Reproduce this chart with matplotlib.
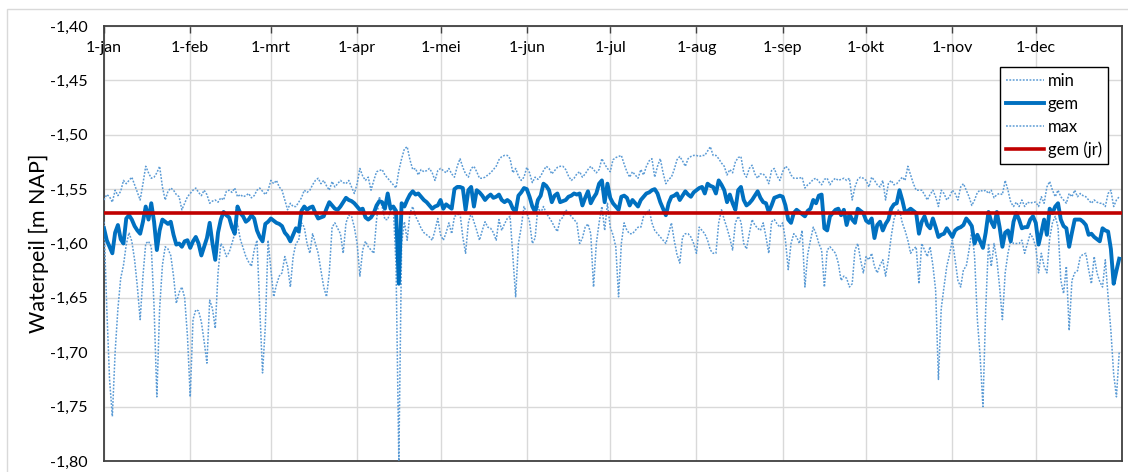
import numpy as np
import matplotlib
matplotlib.use("Agg")
import matplotlib.pyplot as plt
from matplotlib.patches import Rectangle
from matplotlib.ticker import FuncFormatter

plt.rcParams['font.family'] = ['Lato', 'DejaVu Sans']

# month starts (day of year, leap year) and labels
month_start = [0, 31, 60, 91, 121, 152, 182, 213, 244, 274, 305, 335]
month_labels = ['1-jan', '1-feb', '1-mrt', '1-apr', '1-mei', '1-jun',
                '1-jul', '1-aug', '1-sep', '1-okt', '1-nov', '1-dec']

# daily water levels [m NAP]
wl_gem = [
    -1.586, -1.597, -1.603, -1.609, -1.590, -1.583, -1.596, -1.600, -1.577, -1.574,
    -1.578, -1.584, -1.588, -1.591, -1.580, -1.566, -1.578, -1.563, -1.580, -1.606,
    -1.588, -1.578, -1.580, -1.582, -1.580, -1.592, -1.601, -1.600, -1.603, -1.598,
    -1.597, -1.604, -1.598, -1.594, -1.600, -1.611, -1.603, -1.595, -1.581, -1.600,
    -1.615, -1.590, -1.578, -1.571, -1.574, -1.576, -1.585, -1.591, -1.566, -1.572,
    -1.575, -1.580, -1.578, -1.574, -1.577, -1.588, -1.594, -1.598, -1.582, -1.580,
    -1.577, -1.579, -1.581, -1.582, -1.584, -1.590, -1.593, -1.598, -1.592, -1.586,
    -1.589, -1.570, -1.566, -1.569, -1.567, -1.566, -1.572, -1.577, -1.576, -1.575,
    -1.568, -1.562, -1.565, -1.568, -1.569, -1.566, -1.562, -1.558, -1.560, -1.561,
    -1.563, -1.566, -1.569, -1.568, -1.576, -1.578, -1.576, -1.572, -1.565, -1.561,
    -1.562, -1.568, -1.554, -1.568, -1.566, -1.570, -1.637, -1.563, -1.566, -1.560,
    -1.555, -1.552, -1.555, -1.554, -1.557, -1.560, -1.562, -1.565, -1.568, -1.566,
    -1.565, -1.560, -1.568, -1.564, -1.566, -1.568, -1.550, -1.548, -1.548, -1.549,
    -1.569, -1.551, -1.548, -1.566, -1.551, -1.553, -1.556, -1.560, -1.557, -1.555,
    -1.558, -1.557, -1.555, -1.560, -1.562, -1.560, -1.562, -1.568, -1.571, -1.556,
    -1.553, -1.549, -1.550, -1.557, -1.566, -1.571, -1.560, -1.556, -1.545, -1.547,
    -1.551, -1.562, -1.556, -1.554, -1.562, -1.561, -1.560, -1.557, -1.556, -1.554,
    -1.555, -1.554, -1.565, -1.558, -1.552, -1.563, -1.558, -1.554, -1.545, -1.542,
    -1.562, -1.545, -1.558, -1.563, -1.566, -1.569, -1.557, -1.556, -1.558, -1.565,
    -1.560, -1.563, -1.566, -1.560, -1.557, -1.554, -1.553, -1.551, -1.550, -1.554,
    -1.562, -1.568, -1.574, -1.563, -1.557, -1.556, -1.554, -1.560, -1.556, -1.552,
    -1.555, -1.557, -1.553, -1.551, -1.549, -1.548, -1.554, -1.545, -1.547, -1.548,
    -1.554, -1.542, -1.546, -1.551, -1.562, -1.555, -1.563, -1.569, -1.551, -1.548,
    -1.560, -1.565, -1.563, -1.560, -1.556, -1.552, -1.558, -1.562, -1.563, -1.571,
    -1.565, -1.558, -1.557, -1.556, -1.557, -1.565, -1.578, -1.581, -1.572, -1.569,
    -1.571, -1.573, -1.575, -1.570, -1.568, -1.560, -1.563, -1.556, -1.555, -1.586,
    -1.588, -1.575, -1.572, -1.569, -1.568, -1.574, -1.569, -1.583, -1.573, -1.578,
    -1.581, -1.568, -1.570, -1.572, -1.579, -1.581, -1.577, -1.595, -1.583, -1.580,
    -1.588, -1.582, -1.578, -1.568, -1.564, -1.563, -1.551, -1.560, -1.571, -1.570,
    -1.568, -1.570, -1.572, -1.591, -1.580, -1.575, -1.583, -1.586, -1.577, -1.585,
    -1.594, -1.592, -1.591, -1.586, -1.590, -1.594, -1.588, -1.586, -1.585, -1.583,
    -1.577, -1.580, -1.584, -1.600, -1.592, -1.598, -1.604, -1.590, -1.571, -1.580,
    -1.585, -1.571, -1.585, -1.603, -1.590, -1.588, -1.598, -1.580, -1.572, -1.578,
    -1.586, -1.585, -1.585, -1.578, -1.575, -1.581, -1.601, -1.590, -1.578, -1.592,
    -1.568, -1.572, -1.566, -1.563, -1.578, -1.584, -1.586, -1.603, -1.590, -1.578,
    -1.578, -1.578, -1.580, -1.583, -1.592, -1.591, -1.594, -1.596, -1.598, -1.586,
    -1.588, -1.589, -1.605, -1.637, -1.625, -1.614,
]

wl_max = [
    -1.560, -1.555, -1.557, -1.562, -1.551, -1.556, -1.552, -1.542, -1.545, -1.542,
    -1.539, -1.546, -1.553, -1.560, -1.545, -1.529, -1.535, -1.540, -1.539, -1.535,
    -1.529, -1.548, -1.560, -1.552, -1.549, -1.551, -1.555, -1.557, -1.569, -1.563,
    -1.557, -1.554, -1.551, -1.549, -1.553, -1.556, -1.551, -1.555, -1.563, -1.561,
    -1.560, -1.562, -1.558, -1.560, -1.552, -1.551, -1.553, -1.549, -1.557, -1.555,
    -1.557, -1.556, -1.554, -1.558, -1.556, -1.551, -1.549, -1.552, -1.555, -1.551,
    -1.542, -1.545, -1.542, -1.548, -1.551, -1.560, -1.569, -1.563, -1.566, -1.566,
    -1.562, -1.558, -1.551, -1.553, -1.551, -1.546, -1.542, -1.540, -1.545, -1.542,
    -1.547, -1.551, -1.543, -1.548, -1.545, -1.542, -1.544, -1.545, -1.542, -1.548,
    -1.554, -1.545, -1.531, -1.538, -1.542, -1.539, -1.551, -1.542, -1.534, -1.533,
    -1.532, -1.537, -1.540, -1.543, -1.546, -1.549, -1.533, -1.522, -1.513, -1.511,
    -1.523, -1.532, -1.531, -1.537, -1.532, -1.534, -1.533, -1.531, -1.535, -1.542,
    -1.533, -1.531, -1.533, -1.535, -1.531, -1.536, -1.539, -1.529, -1.522, -1.530,
    -1.536, -1.539, -1.531, -1.529, -1.534, -1.540, -1.540, -1.539, -1.537, -1.535,
    -1.532, -1.529, -1.523, -1.520, -1.519, -1.519, -1.522, -1.535, -1.531, -1.538,
    -1.542, -1.539, -1.530, -1.535, -1.544, -1.539, -1.541, -1.538, -1.533, -1.529,
    -1.531, -1.536, -1.533, -1.530, -1.529, -1.529, -1.532, -1.538, -1.542, -1.540,
    -1.536, -1.534, -1.539, -1.536, -1.532, -1.529, -1.532, -1.535, -1.532, -1.522,
    -1.527, -1.531, -1.534, -1.523, -1.521, -1.520, -1.519, -1.527, -1.534, -1.539,
    -1.534, -1.537, -1.540, -1.532, -1.537, -1.529, -1.524, -1.522, -1.539, -1.529,
    -1.522, -1.535, -1.545, -1.541, -1.539, -1.532, -1.523, -1.520, -1.524, -1.529,
    -1.522, -1.520, -1.519, -1.519, -1.520, -1.519, -1.519, -1.515, -1.511, -1.519,
    -1.519, -1.522, -1.526, -1.529, -1.537, -1.532, -1.535, -1.525, -1.521, -1.520,
    -1.535, -1.539, -1.531, -1.528, -1.536, -1.540, -1.536, -1.536, -1.539, -1.545,
    -1.533, -1.531, -1.538, -1.542, -1.534, -1.529, -1.531, -1.537, -1.540, -1.540,
    -1.540, -1.539, -1.549, -1.546, -1.544, -1.541, -1.540, -1.543, -1.546, -1.541,
    -1.540, -1.546, -1.542, -1.540, -1.542, -1.541, -1.540, -1.542, -1.540, -1.560,
    -1.548, -1.541, -1.539, -1.540, -1.542, -1.548, -1.539, -1.542, -1.546, -1.548,
    -1.542, -1.560, -1.545, -1.542, -1.546, -1.545, -1.542, -1.539, -1.542, -1.529,
    -1.537, -1.545, -1.551, -1.551, -1.551, -1.555, -1.560, -1.555, -1.551, -1.557,
    -1.566, -1.551, -1.554, -1.560, -1.557, -1.551, -1.554, -1.560, -1.548, -1.545,
    -1.551, -1.557, -1.565, -1.560, -1.553, -1.551, -1.552, -1.551, -1.554, -1.551,
    -1.558, -1.555, -1.554, -1.555, -1.542, -1.551, -1.562, -1.566, -1.562, -1.566,
    -1.560, -1.566, -1.562, -1.563, -1.562, -1.562, -1.566, -1.557, -1.563, -1.548,
    -1.543, -1.551, -1.557, -1.551, -1.557, -1.560, -1.563, -1.554, -1.557, -1.551,
    -1.557, -1.554, -1.556, -1.557, -1.560, -1.563, -1.560, -1.562, -1.563, -1.563,
    -1.566, -1.554, -1.551, -1.566, -1.560, -1.557,
]

wl_min = [
    -1.580, -1.660, -1.725, -1.759, -1.700, -1.660, -1.632, -1.620, -1.601, -1.590,
    -1.598, -1.615, -1.640, -1.670, -1.630, -1.600, -1.598, -1.603, -1.658, -1.741,
    -1.660, -1.620, -1.603, -1.605, -1.611, -1.630, -1.655, -1.645, -1.640, -1.650,
    -1.685, -1.741, -1.670, -1.661, -1.662, -1.672, -1.690, -1.710, -1.652, -1.660,
    -1.678, -1.627, -1.600, -1.604, -1.612, -1.608, -1.600, -1.591, -1.582, -1.596,
    -1.604, -1.612, -1.617, -1.621, -1.606, -1.597, -1.660, -1.719, -1.676, -1.597,
    -1.624, -1.649, -1.638, -1.630, -1.627, -1.612, -1.621, -1.640, -1.612, -1.600,
    -1.597, -1.581, -1.585, -1.600, -1.609, -1.591, -1.600, -1.609, -1.625, -1.640,
    -1.649, -1.627, -1.585, -1.581, -1.586, -1.591, -1.609, -1.581, -1.574, -1.575,
    -1.585, -1.600, -1.630, -1.606, -1.598, -1.603, -1.606, -1.609, -1.578, -1.557,
    -1.566, -1.578, -1.578, -1.570, -1.566, -1.621, -1.800, -1.600, -1.580, -1.597,
    -1.572, -1.566, -1.575, -1.580, -1.586, -1.590, -1.592, -1.594, -1.597, -1.588,
    -1.577, -1.592, -1.597, -1.590, -1.581, -1.591, -1.575, -1.574, -1.572, -1.594,
    -1.609, -1.581, -1.572, -1.580, -1.588, -1.597, -1.588, -1.580, -1.585, -1.586,
    -1.590, -1.597, -1.578, -1.588, -1.582, -1.577, -1.575, -1.612, -1.649, -1.600,
    -1.585, -1.566, -1.572, -1.580, -1.600, -1.595, -1.566, -1.572, -1.566, -1.572,
    -1.576, -1.580, -1.585, -1.589, -1.578, -1.576, -1.569, -1.572, -1.575, -1.578,
    -1.581, -1.600, -1.595, -1.585, -1.582, -1.591, -1.640, -1.600, -1.581, -1.566,
    -1.588, -1.563, -1.585, -1.592, -1.603, -1.649, -1.600, -1.581, -1.588, -1.591,
    -1.591, -1.588, -1.585, -1.585, -1.575, -1.572, -1.569, -1.581, -1.588, -1.591,
    -1.594, -1.597, -1.600, -1.591, -1.581, -1.597, -1.610, -1.618, -1.594, -1.591,
    -1.591, -1.594, -1.600, -1.609, -1.585, -1.588, -1.591, -1.597, -1.606, -1.609,
    -1.609, -1.581, -1.569, -1.578, -1.586, -1.595, -1.606, -1.581, -1.575, -1.580,
    -1.600, -1.605, -1.591, -1.578, -1.583, -1.586, -1.588, -1.581, -1.594, -1.609,
    -1.580, -1.578, -1.582, -1.585, -1.581, -1.597, -1.624, -1.600, -1.591, -1.594,
    -1.600, -1.588, -1.640, -1.610, -1.597, -1.585, -1.591, -1.600, -1.606, -1.640,
    -1.606, -1.603, -1.606, -1.609, -1.618, -1.634, -1.630, -1.632, -1.640, -1.637,
    -1.606, -1.600, -1.615, -1.627, -1.612, -1.615, -1.609, -1.621, -1.627, -1.620,
    -1.615, -1.630, -1.615, -1.594, -1.578, -1.570, -1.569, -1.581, -1.588, -1.597,
    -1.609, -1.605, -1.603, -1.637, -1.600, -1.606, -1.612, -1.603, -1.620, -1.643,
    -1.725, -1.660, -1.640, -1.621, -1.610, -1.597, -1.615, -1.634, -1.640, -1.624,
    -1.621, -1.606, -1.588, -1.612, -1.670, -1.704, -1.750, -1.660, -1.600, -1.621,
    -1.600, -1.615, -1.640, -1.670, -1.627, -1.609, -1.597, -1.600, -1.600, -1.600,
    -1.597, -1.609, -1.600, -1.591, -1.595, -1.603, -1.627, -1.609, -1.621, -1.627,
    -1.595, -1.581, -1.575, -1.585, -1.634, -1.646, -1.621, -1.680, -1.634, -1.627,
    -1.625, -1.612, -1.610, -1.609, -1.624, -1.637, -1.612, -1.627, -1.635, -1.640,
    -1.615, -1.649, -1.680, -1.720, -1.741, -1.700,
]

# yearly mean
wl_gem_jr = -1.572

y_ticks = [-1.80, -1.75, -1.70, -1.65, -1.60, -1.55, -1.50, -1.45, -1.40]

days = np.arange(len(wl_gem))

fig = plt.figure(figsize=(11.28, 4.72), dpi=100)
ax = fig.add_axes([104/1128, 11/472, 1018/1128, 435/472])

dots = (0, (1.2, 1.0))
ax.plot(days, wl_min, color='#5b9bd5', lw=1.1, ls=dots, label='min', zorder=3)
ax.plot(days, wl_gem, color='#0070c0', lw=2.8, label='gem', zorder=4)
ax.plot(days, wl_max, color='#5b9bd5', lw=1.1, ls=dots, label='max', zorder=3)
ax.plot([0, 366], [wl_gem_jr, wl_gem_jr], color='#c00000', lw=2.6, label='gem (jr)', zorder=5)

ax.set_xlim(0, 366)
ax.set_ylim(-1.80, -1.40)
ax.set_yticks(y_ticks)
ax.yaxis.set_major_formatter(FuncFormatter(lambda v, p: f'{v:.2f}'.replace('.', ',')))
ax.set_xticks(month_start)
ax.set_xticklabels(month_labels)

ax.xaxis.tick_top()
ax.tick_params(axis='x', direction='in', length=5, width=1, color='#404040',
               pad=-21, labelsize=11.5, labelcolor='#000000')
ax.tick_params(axis='y', length=0, pad=12, labelsize=11.5)

ax.grid(True, color='#d9d9d9', lw=1)
ax.set_axisbelow(True)
for s in ax.spines.values():
    s.set_color('#404040')
    s.set_linewidth(1.3)

ax.set_ylabel('Waterpeil [m NAP]', fontsize=15.5)
ax.yaxis.set_label_coords(-55/1018, 0.5)

leg = ax.legend(loc='upper right', bbox_to_anchor=(0.986, 0.906), fontsize=12,
                frameon=True, fancybox=False, edgecolor='#000000', framealpha=1,
                borderaxespad=0, handlelength=2.3, handletextpad=0.2,
                labelspacing=0.42, borderpad=0.35)
leg.get_frame().set_linewidth(1.0)

# outer chart-area border
fig.patches.append(Rectangle((7/1128, -0.1), 1.2, 1.1 - 9/472, transform=fig.transFigure,
                             fill=False, edgecolor='#d9d9d9', lw=1))

fig.savefig('out.png', dpi=100)
